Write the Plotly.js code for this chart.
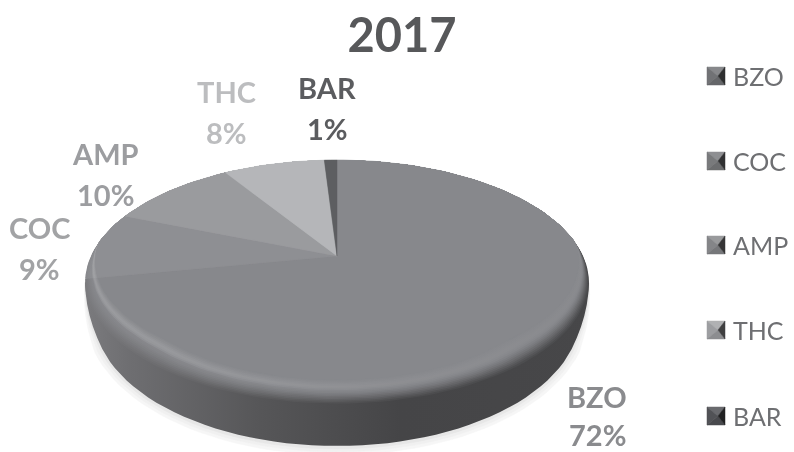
<!DOCTYPE html>
<html>
<head>
<meta charset="utf-8">
<script src="https://cdn.plot.ly/plotly-3.0.1.min.js"></script>
<style>
html,body{margin:0;padding:0;background:#fff}
#chart{width:794px;height:452px;filter:blur(0.6px)}
</style>
</head>
<body>
<div id="chart"></div>
<script>
const chartTitle = '2017';
const categories = ['BZO', 'COC', 'AMP', 'THC', 'BAR'];
const shares = [72, 9, 10, 8, 1];
const sliceColors = ['#87888c', '#8e8f93', '#9a9b9e', '#b5b6b9', '#5d5e61'];
const swatchColors = ['#77787b', '#7f8083', '#8b8c8f', '#a5a6a9', '#55565a'];
const labelColors = ['#8a8b8e', '#a2a3a5', '#9c9da0', '#bcbdbf', '#5b5c5f'];
const labelAnchors = [[597, 396], [39, 227], [105, 153], [226, 91], [327, 87]];
const legendRows = [76, 161, 245, 330, 416];

// Perspective view of the disc (pixel space = axis space)
const view = {cx: 337, cy: 256, A: 246, B: 116.8, p: 0.2163};
function project(theta, radius) {
  const u = radius * Math.sin(theta), v = radius * Math.cos(theta);
  const w = 1 + view.p * v;
  return [view.cx + view.A * u / w, view.cy - view.B * v / w];
}
// lower edge of the wall, as an ellipse of its own
const base = {cx: 337, cy: 315, rx: 243, ry: 131};
function baseEdge(deg, grow, dy) {
  const t = deg*Math.PI/180;
  return [base.cx + (base.rx+grow)*Math.sin(t), base.cy + dy - (base.ry+grow)*Math.cos(t)];
}
function hex(c){return c.startsWith('#') ? [1,3,5].map(i=>parseInt(c.substr(i,2),16)) : c.match(/\d+/g).map(Number);}
function mix(a,b,t){const A=hex(a),B=hex(b);return 'rgb('+A.map((x,i)=>Math.round(x+(B[i]-x)*t)).join(',')+')';}

const traces = [];
const gradLeft = 80, gradRight = 600;
const wallStops = [[80,'#7c7c7f'],[130,'#6e6e71'],[260,'#565658'],[400,'#454547'],[600,'#474749']];
function gradient(fn){
  return {type:'horizontal', start:gradLeft, stop:gradRight,
    colorscale: wallStops.map(([x,c])=>[(x-gradLeft)/(gradRight-gradLeft), fn(c,x)])};
}
function poly(points, color, grad) {
  const xs = points.map(p=>p[0]), ys = points.map(p=>p[1]);
  xs.push(xs[0]); ys.push(ys[0]);
  const t = {type:'scatter', mode:'lines', x:xs, y:ys, fill:'toself',
    line:{color:color||'rgba(0,0,0,0)', width:color?0.5:0}, hoverinfo:'skip', showlegend:false};
  if (grad) t.fillgradient = grad; else t.fillcolor = color;
  traces.push(t);
}
const rad = d => d*Math.PI/180;

// Outer outline of the wall: from one rim extreme, round the foot, to the other
function wallOutline(grow, dy) {
  const pts=[];
  const sweep=(a,b,n,sign,rising)=>{ // rounded shoulder between rim extreme a and foot point b
    for(let k=1;k<n;k++){
      const f=k/n, g=rising?1-f:f, bulge=4*4*f*(1-f)+grow*g;
      pts.push([a[0]+(b[0]-a[0])*f+sign*bulge, a[1]+(b[1]-a[1])*f]);
    }
  };
  const rimR=project(rad(102.5),1), rimL=project(rad(257.5),1);
  const footR=baseEdge(105,0,dy), footL=baseEdge(255,0,dy);
  pts.push(rimR);
  sweep(rimR,footR,6,1,false);
  for(let d=105;d<=255;d+=3) pts.push(baseEdge(d,grow,dy));
  sweep(footL,rimL,6,-1,true);
  pts.push(rimL);
  return pts;
}

// soft shadow below the wall
[[8,'#f6f6f6',1],[5,'#f0f0f0',1],[2,'#e7e7e7',1]].forEach(([g,c,dy])=>{
  poly(wallOutline(g,dy),c);
});

// side wall, tucked under the top face so no seam shows
(function(){
  const inner=[];
  for (let d=257; d>=103; d-=3) inner.push(project(rad(d),0.9));
  poly(wallOutline(0,0).concat(inner), null, gradient(c=>c));
})();

// How far the bevel reaches in, by direction: nothing at the far edge, most at the near edge
function reach(theta){
  const f=(0.12-Math.cos(theta))/0.85;
  return Math.max(0,Math.min(1,f));
}
// top face with bevel, built from the shares. w>0 leans to the wall colour, w<0 is the highlight
const levels = [[0,1],[0.004,0.9],[0.008,0.78],[0.012,0.65],[0.016,0.52],[0.020,0.4],[0.024,0.28],[0.028,0.18],[0.032,0.09],[0.036,0.02],
  [0.040,-0.08],[0.044,-0.14],[0.048,-0.16],[0.052,-0.13],[0.056,-0.09],[0.060,-0.05],[0.064,-0.02],[0.068,0]];
levels.forEach(([inset,w])=>{
  let cum=0;
  shares.forEach((val,i)=>{
    const start=cum/100*360, end=(cum+val)/100*360; cum+=val;
    const pts=[project(0,0)];
    const at=d=>project(rad(d),1-inset*2*reach(rad(d)));
    for(let d=start; d<end; d+=Math.min(2,(end-start)/2)) pts.push(at(d));
    pts.push(at(end));
    if (w===0) { poly(pts, sliceColors[i]); return; }
    const lean = i===0 ? w : w*0.35;
    poly(pts, null, gradient((c,x)=> w>0 ? mix(sliceColors[i],c,lean)
      : mix(sliceColors[i],'#ffffff',-w*Math.max(0.1,1.25-x/440))));
  });
});

// legend swatches (four-facet pyramid squares)
legendRows.forEach((y,i)=>{
  const x0=707,x1=725,y0=y-9,y1=y+9,mx=718,my=y,b=swatchColors[i];
  poly([[x0,y0],[x1,y0],[mx,my]], mix(b,'#ffffff',0.12));
  poly([[x0,y0],[x0,y1],[mx,my]], mix(b,'#000000',0.05));
  poly([[x0,y1],[x1,y1],[mx,my]], mix(b,'#000000',0.15));
  poly([[x1,y0],[x1,y1],[mx,my]], mix(b,'#000000',0.62));
});

const annotations=[];
function note(text,x,y,size,color,bold,anchor){
  annotations.push({text: bold?'<b>'+text+'</b>':text, x:x, y:y, xref:'x', yref:'y', showarrow:false,
    xanchor:anchor||'center', yanchor:'middle',
    font:{family:'Lato, Carlito, sans-serif', size:size, color:color}});
}
categories.forEach((c,i)=>{
  const [lx,ly]=labelAnchors[i];
  note(c,lx,ly,29,labelColors[i],true);
  note(shares[i]+'%',lx,ly+(i===0?38:41),29,labelColors[i],true);
  note(c,731,legendRows[i],25,'#6e6f72',false,'left');
});

Plotly.newPlot('chart', traces, {
  width:794, height:452,
  margin:{l:0,r:0,t:0,b:0},
  paper_bgcolor:'#ffffff', plot_bgcolor:'#ffffff',
  showlegend:false,
  title:{text:'<b>'+chartTitle+'</b>', x:402/794, xanchor:'center', y:1-36/452, yanchor:'middle',
    font:{family:'Lato, Carlito, sans-serif', size:47, color:'#57585a'}},
  xaxis:{range:[0,794], visible:false, fixedrange:true},
  yaxis:{range:[452,0], visible:false, fixedrange:true},
  annotations:annotations
}, {displayModeBar:false, staticPlot:true});
</script>
</body>
</html>
